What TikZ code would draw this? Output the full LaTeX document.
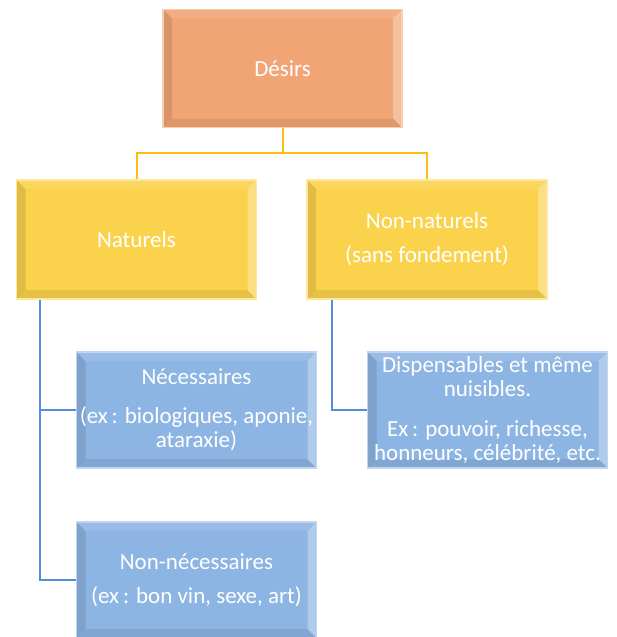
\documentclass[tikz,border=0pt]{standalone}
\usepackage{fontspec}
\setmainfont{Carlito}
\usepackage{tikz}
\usetikzlibrary{calc}

\definecolor{orangebox}{RGB}{241,165,116}
\definecolor{yellowbox}{RGB}{251,210,76}
\definecolor{bluebox}{RGB}{141,181,227}
\definecolor{yellowline}{RGB}{250,190,20}
\definecolor{blueline}{RGB}{84,142,218}

\tikzset{
    bevel/.style={path picture={
        \fill[black,opacity=0.10] (path picture bounding box.south west) -- (path picture bounding box.north west)
            -- ++(9pt,-9pt) -- ($(path picture bounding box.south west)+(9pt,9pt)$) -- cycle;
        \fill[black,opacity=0.08] (path picture bounding box.south west) -- (path picture bounding box.south east)
            -- ++(-9pt,9pt) -- ($(path picture bounding box.south west)+(9pt,9pt)$) -- cycle;
        \fill[white,opacity=0.30] (path picture bounding box.south east) -- (path picture bounding box.north east)
            -- ++(-9pt,-9pt) -- ($(path picture bounding box.south east)+(-9pt,9pt)$) -- cycle;
        \fill[white,opacity=0.10] (path picture bounding box.north west) -- (path picture bounding box.north east)
            -- ++(-9pt,-9pt) -- ($(path picture bounding box.north west)+(9pt,-9pt)$) -- cycle;
    }},
    box/.style={bevel, minimum width=#1, align=center, text=white, line width=1.5pt,
        font=\fontsize{23}{24}\selectfont, inner sep=0pt},
    obox/.style={box=239pt, fill=orangebox, draw=orangebox!55!white, minimum height=118pt},
    ybox/.style={box=240pt, fill=yellowbox, draw=yellowbox!55!white, minimum height=119pt},
    bbox/.style={box=240pt, fill=bluebox, draw=bluebox!55!white, minimum height=116pt},
    yline/.style={draw=yellowline, line width=2pt},
    bline/.style={draw=blueline, line width=2.2pt}
}

\begin{document}
\begin{tikzpicture}[x=1pt, y=-1pt]
\useasboundingbox[fill=white] (0,0) rectangle (617,637);

\node[obox] (des) at (282.5,68.5) {Désirs};
\node[ybox] (nat) at (136.5,239.5) {Naturels};
\node[ybox] (nonnat) at (427,239.5) {Non-naturels\\[10pt](sans fondement)};
\node[bbox] (nec) at (196.5,410) {Nécessaires\\[15pt](ex\,: biologiques, aponie,\\ataraxie)};
\node[bbox] (disp) at (487.5,410) {Dispensables et même\\nuisibles.\\[16pt]Ex\,: pouvoir, richesse,\\honneurs, célébrité, etc.};
\node[bbox] (nonnec) at (196.5,580) {Non-nécessaires\\[10pt](ex\,: bon vin, sexe, art)};

% liens
\coordinate (split) at (282.5,153);
\coordinate (natstem) at (40,300);
\coordinate (nnstem) at (332,300);

\draw[yline] (des.south) -- (split) -| (nat.north);
\draw[yline] (split) -| (nonnat.north);
\draw[bline] (natstem) |- (nec.west);
\draw[bline] (natstem) |- (nonnec.west);
\draw[bline] (nnstem) |- (disp.west);
\end{tikzpicture}
\end{document}
